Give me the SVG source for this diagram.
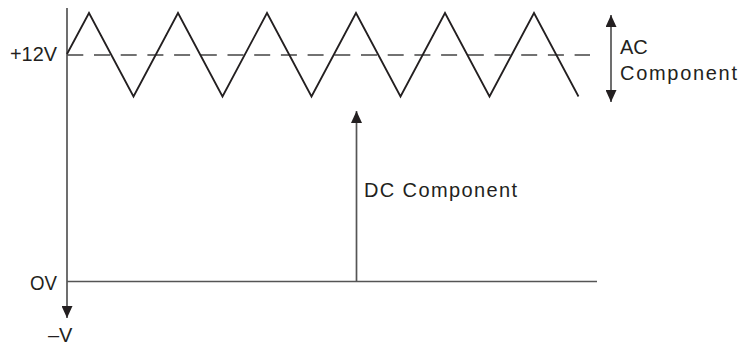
<svg xmlns="http://www.w3.org/2000/svg" width="742" height="345" viewBox="0 0 742 345">
<defs>
<style>
.lbl{font-family:"Liberation Sans",Arial,sans-serif;font-size:20px;fill:#231f20}
.ax{stroke:#555;stroke-width:1.7;fill:none}
.wave{stroke:#231f20;stroke-width:1.8;fill:none;stroke-linejoin:miter}
.dash{stroke:#444;stroke-width:1.3;stroke-dasharray:16 10.7;fill:none}
</style>
<marker id="ah" viewBox="0 0 12 11" refX="12" refY="5.5" markerWidth="12" markerHeight="11" markerUnits="userSpaceOnUse" orient="auto">
<path d="M0,0 L12,5.5 L0,11 Z" fill="#231f20"/>
</marker>
</defs>
<g id="connectors">
<line id="y-axis" class="ax" x1="67" y1="8" x2="67" y2="318" marker-end="url(#ah)"/>
<line id="zero-line" class="ax" x1="67" y1="281.5" x2="597" y2="281.5"/>
<line id="dc-level" class="dash" x1="67.3" y1="55" x2="590" y2="55"/>
<polyline id="ac-wave" class="wave" points="67,54 89,13 133.5,96.5 178,13 222.5,96.5 267,13 311.5,96.5 356,13 400.5,96.5 445,13 489.5,96.5 534,13 578.5,96.5"/>
<line id="dc-arrow" class="ax" x1="356.5" y1="281" x2="356.5" y2="111" marker-end="url(#ah)"/>
<line id="ac-arrow" class="ax" x1="611" y1="58" x2="611" y2="15" marker-end="url(#ah)"/>
<line id="ac-arrow2" class="ax" x1="611" y1="58" x2="611" y2="102" marker-end="url(#ah)"/>
</g>
<g id="label-12v"><text class="lbl" x="10" y="61" textLength="47" lengthAdjust="spacingAndGlyphs">+12V</text></g>
<g id="label-0v"><text class="lbl" x="30" y="290" textLength="27" lengthAdjust="spacingAndGlyphs">OV</text></g>
<g id="label-minus-v"><text class="lbl" x="48" y="342">–V</text></g>
<g id="label-dc"><text class="lbl" x="364" y="197" textLength="153" lengthAdjust="spacing">DC Component</text></g>
<g id="label-ac">
<text class="lbl" x="620" y="54">AC</text>
<text class="lbl" x="620" y="80" textLength="117" lengthAdjust="spacing">Component</text>
</g>
</svg>
